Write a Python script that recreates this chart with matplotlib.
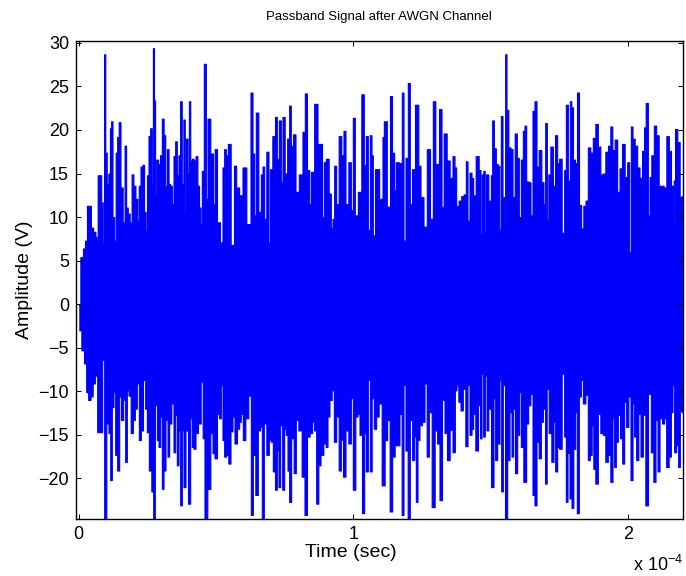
import numpy as np
import matplotlib
matplotlib.use("Agg")
import matplotlib.pyplot as plt

plt.rcParams['font.family'] = ['Liberation Sans', 'DejaVu Sans']
plt.rcParams['mathtext.fontset'] = 'custom'
plt.rcParams['mathtext.rm'] = 'Liberation Sans'
plt.rcParams['mathtext.it'] = 'Liberation Sans'

# Upper peaks of the received passband signal (time in microseconds, amplitude in V)
top_t_us = [
    0.0, 1.2, 1.9, 2.7, 3.3, 4.1, 4.8, 5.7, 6.5, 7.3, 7.9, 8.5, 9.0, 9.45, 9.9,
    10.5, 11.1, 11.6, 12.0, 12.6, 13.2, 13.7, 14.3, 14.8, 15.6, 16.4, 17.0, 17.5,
    18.2, 18.9, 19.6, 20.2, 21.1, 21.6, 22.1, 22.9, 23.5, 24.1, 24.6, 25.1, 25.7,
    26.3, 26.8, 27.2, 27.6, 28.0, 28.5, 29.3, 29.9, 30.6, 31.2, 31.8, 32.4, 33.0,
    33.6, 34.2, 34.8, 35.4, 36.0, 36.6, 37.2, 37.8, 38.4, 38.8, 39.3, 39.9, 40.3,
    40.9, 41.5, 42.1, 42.9, 43.5, 44.1, 44.5, 45.1,
    45.96, 46.57, 47.17, 48.63, 49.11, 49.84, 50.81, 52.02, 52.63, 53.24, 53.84,
    54.69, 55.91, 57.12, 57.48, 59.30, 59.91, 62.09, 62.94, 63.55, 64.15, 64.76,
    65.97, 66.58, 67.19, 67.79, 68.76, 69.37, 69.86, 71.07, 71.80, 72.40, 73.25,
    73.86, 74.47, 75.44, 76.28, 76.89, 77.50, 78.47, 79.32, 80.89, 81.99, 82.59,
    83.56, 84.17, 84.78, 86.60, 87.20, 88.05, 89.02, 89.39, 90.48, 91.45, 92.05,
    92.66, 93.27, 94.12, 95.09, 96.06, 96.66, 97.51, 98.73, 99.33, 100.18, 100.79,
    102.36, 103.33, 104.18, 104.79, 105.64, 106.25, 106.85, 107.22, 108.43,
    110.25, 110.86, 111.22, 113.04, 113.52, 114.49, 115.10, 115.71, 117.28,
    117.89, 118.50, 119.35, 120.20, 120.80, 121.77, 122.99, 124.20, 124.56,
    126.38, 126.99, 128.69, 129.05, 130.51, 131.72, 132.33, 133.30, 134.51,
    135.48, 136.58, 136.94, 137.79, 138.76, 139.61, 140.58, 141.19, 141.79,
    142.64, 143.25, 143.85, 145.07, 146.04, 146.40, 147.01, 147.49, 147.98,
    148.46, 149.68, 150.28, 150.65, 151.50, 152.10, 152.83, 153.32, 153.92,
    154.53, 155.01, 155.38, 155.98, 156.71, 157.56, 158.17, 159.14, 159.74,
    160.59, 161.20, 162.05, 162.41, 163.26, 163.99, 164.84, 165.45, 166.29,
    166.90, 167.87, 168.84, 169.45, 170.06, 170.66, 171.15, 172.12, 172.97,
    173.69, 174.54, 175.15, 176.36, 176.97, 177.58, 178.42, 179.03, 179.52,
    180.24, 180.97, 181.70, 182.43, 183.28, 184.00, 184.85, 185.70, 186.67,
    187.52, 188.49, 189.34, 190.31, 191.16, 192.13, 193.10, 193.83, 194.56,
    195.53, 196.38, 197.23, 198.20, 199.17, 200.02, 200.62, 201.23, 201.84,
    202.81, 203.66, 204.51, 205.48, 205.96, 206.69, 207.54, 207.90, 208.87,
    209.72, 210.57, 211.54, 212.39, 213.36, 214.33, 215.18, 215.91, 216.39,
    216.64, 217.36, 218.33, 219.06, 219.67,
]
top_amp = [
    0.0, 5.4, 6.4, 7.3, 11.3, 11.3, 8.8, 8.3, 7.7, 14.8, 14.8, 11.7, 7.0, 28.7, 17.4,
    13.8, 15.0, 20.2, 21.0, 10.0, 7.3, 17.4, 19.2, 20.9, 13.4, 9.4, 18.2, 11.1,
    10.4, 9.4, 14.9, 13.6, 12.1, 9.6, 13.6, 15.8, 16.0, 10.6, 8.5, 14.8, 19.3,
    20.2, 13.8, 29.4, 23.4, 12.5, 16.6, 16.1, 17.1, 21.3, 19.4, 13.6, 17.8, 13.8,
    13.6, 11.5, 17.0, 18.7, 14.8, 17.1, 23.3, 13.8, 21.2, 10.4, 19.0, 15.0, 23.3,
    16.5, 16.7, 16.5, 17.0, 13.6, 11.1, 9.2, 15.3,
    27.6, 12.1, 21.3, 17.3, 11.5, 17.8, 9.4, 7.1, 15.7, 17.8, 17.1,
    18.4, 6.8, 15.9, 13.4, 12.5, 15.7, 9.2, 24.3, 17.3, 10.2, 22.0,
    10.6, 14.9, 15.8, 9.8, 17.5, 7.0, 15.5, 19.3, 21.5, 16.7, 21.1,
    14.0, 21.5, 15.0, 19.0, 22.8, 18.2, 19.5, 12.9, 14.9, 19.8, 24.2,
    15.4, 11.5, 15.2, 23.0, 18.4, 18.4, 10.0, 16.3, 16.7, 12.7, 8.7,
    9.8, 15.9, 11.5, 19.3, 17.1, 19.9, 11.5, 16.3, 10.8, 21.4, 10.2,
    12.9, 24.1, 16.0, 19.3, 8.5, 19.4, 17.1, 7.9, 15.5,
    12.1, 19.2, 21.0, 11.2, 23.9, 17.4, 13.1, 16.3, 16.2,
    24.3, 7.3, 16.8, 25.4, 11.5, 15.5, 22.9, 15.9, 12.3,
    8.9, 17.8, 9.8, 23.3, 16.1, 22.4, 11.2, 19.6, 16.5,
    14.5, 17.0, 15.7, 11.3, 11.9, 12.4, 12.6, 16.4, 9.6,
    15.1, 14.5, 12.5, 17.0, 15.4, 8.1, 14.9, 15.3, 8.3,
    14.9, 11.9, 14.8, 21.1, 17.9, 16.1, 15.9, 8.6, 21.6,
    12.3, 9.0, 28.7, 22.3, 18.0, 17.8, 12.3, 19.6, 16.8,
    10.0, 16.6, 19.9, 20.5, 14.1, 14.0, 10.2, 22.2, 23.3,
    15.8, 17.7, 14.0, 11.5, 20.8, 9.7, 14.9, 18.1, 13.6,
    19.4, 16.2, 16.7, 8.2, 15.4, 22.9, 14.2, 23.3, 22.6,
    16.6, 16.2, 24.3, 11.4, 8.7, 11.3, 11.9, 18.0, 17.4,
    19.1, 20.7, 18.1, 14.9, 15.0, 17.5, 18.2, 20.4, 17.7,
    18.9, 12.9, 15.6, 18.4, 14.6, 16.3, 6.0, 20.4, 19.0,
    18.2, 15.7, 14.5, 17.6, 20.3, 23.1, 10.2, 14.6, 17.1,
    20.5, 19.4, 13.6, 13.6, 13.4, 19.3, 17.6, 13.6, 9.3,
    14.2, 20.1, 18.6, 12.3, 12.4,
]

# Lower peaks of the received passband signal
bot_t_us = [
    0.0, 0.48, 1.45, 2.42, 3.02, 3.87, 4.72, 5.45, 6.30, 7.15, 8.12, 8.97, 9.57,
    10.54, 11.15, 11.76, 12.36, 12.97, 13.58, 14.43, 15.03, 15.76, 16.61, 17.22,
    17.82, 18.43, 19.40, 20.01, 20.85, 21.46, 22.31, 22.92, 23.89, 24.49, 25.10,
    25.95, 26.92, 27.28, 28.13, 28.74, 29.35, 29.95, 30.56, 31.16, 32.01, 32.62,
    33.23, 34.20, 34.80, 35.41, 36.02, 36.62, 37.23, 37.84, 38.44, 39.29, 40.26,
    40.87, 41.48, 42.08, 42.93, 43.90, 44.87,
    45.35, 46.20, 47.42, 48.39, 48.99, 49.84, 50.81, 51.42, 52.02, 52.63, 53.24,
    54.09, 54.81, 55.66, 56.27, 57.12, 58.09, 58.70, 59.30, 60.15, 61.12, 62.33,
    62.94, 63.79, 64.76, 65.61, 66.34, 66.94, 67.79, 68.76, 69.61, 70.22, 71.07,
    71.80, 72.40, 73.01, 73.62, 74.47, 75.07, 75.68, 76.28, 76.89, 77.74, 78.71,
    79.32, 80.53, 81.74, 82.59, 83.56, 84.53, 85.38, 85.99, 86.84, 87.57, 88.42,
    89.63, 90.23, 90.84, 91.69, 92.42, 93.27, 94.12, 95.09, 95.69, 96.66, 97.51,
    98.73, 99.33, 100.18, 101.15, 101.76, 102.61, 103.58, 104.18, 104.79, 105.64,
    106.25, 106.97, 107.82, 108.67, 109.64, 110.86, 111.83, 112.67, 113.64,
    114.49, 115.46, 116.31, 117.16, 117.89, 118.50, 119.35, 120.07, 120.92,
    121.77, 122.38, 122.99, 123.59, 124.44, 125.41, 126.26, 126.99, 127.84,
    129.05, 130.02, 130.87, 131.72, 132.69, 133.54, 134.51,
    135.48, 136.58, 137.18, 137.79, 138.52, 139.37, 140.21, 141.19, 141.79,
    142.64, 143.25, 143.85, 144.82, 145.79, 146.28, 146.89, 147.49, 148.10,
    148.71, 149.43, 150.65, 151.25, 151.86, 152.71, 153.56, 153.92, 154.77,
    155.50, 156.35, 157.20, 157.80, 158.41, 159.14, 159.99, 160.59, 161.20,
    162.41, 163.26, 163.87, 164.84, 165.45, 166.29, 166.90, 167.87, 168.48,
    169.33, 170.06, 170.54, 171.51, 172.48, 173.09, 173.69, 174.54, 175.15,
    176.36, 176.97, 177.58, 178.18, 179.03, 179.64, 180.37, 180.97, 181.58,
    182.43, 183.03, 183.88, 184.85, 185.70, 186.31, 187.04, 187.52, 188.49,
    189.34, 190.31, 191.16, 192.13, 192.98, 193.95, 194.56, 195.16, 195.77,
    196.62, 197.35, 198.20, 198.80, 199.65, 200.38, 201.23, 201.84, 202.44,
    203.29, 204.02, 204.87, 205.72, 206.69, 207.66, 208.75, 209.48, 210.33,
    210.94, 211.78, 212.75, 213.36, 214.21, 215.18, 215.79, 216.39, 217.00,
    217.85, 218.45, 219.06, 219.67,
]
bot_amp = [
    0.0, -3.0, -5.3, -6.8, -10.1, -11.0, -10.6, -9.1, -8.2, -14.7, -14.7, -6.4, -24.8,
    -13.7, -14.8, -20.2, -11.8, -10.1, -17.3, -19.1, -10.6, -13.3, -11.0, -18.1,
    -9.9, -10.5, -14.8, -13.3, -12.0, -9.1, -15.6, -14.5, -8.7, -12.0, -14.7,
    -19.1, -21.5, -24.8, -11.6, -15.6, -16.4, -12.9, -21.2, -19.1, -13.3, -17.5,
    -13.7, -11.4, -17.0, -12.7, -18.5, -14.5, -23.1, -14.5, -21.0, -14.5, -22.9,
    -13.1, -16.4, -16.6, -14.8, -13.7, -8.9,
    -15.4, -24.8, -21.2, -14.8, -17.1, -17.7, -12.6, -13.1, -9.3, -15.6, -17.5,
    -17.3, -18.3, -14.6, -12.9, -16.0, -14.3, -13.5, -12.6, -15.6, -13.1, -10.5,
    -24.2, -17.3, -21.9, -14.5, -14.1, -24.8, -13.7, -17.3, -15.6, -15.8, -19.2,
    -21.3, -16.8, -21.0, -13.9, -21.3, -14.3, -15.0, -19.1, -22.7, -15.4, -19.4,
    -13.3, -14.5, -19.8, -24.2, -15.2, -14.8, -13.5, -14.5, -22.9, -18.5, -17.3,
    -16.0, -16.4, -12.9, -11.0, -9.9, -15.8, -12.9, -19.1, -15.6, -19.8, -14.5,
    -16.0, -10.8, -21.3, -12.9, -12.6, -15.0, -24.0, -14.8, -19.2, -8.7,
    -19.2, -10.8, -14.3, -12.9, -11.4, -20.8, -15.6, -13.3, -23.8,
    -17.5, -16.2, -16.2, -12.6, -24.2, -9.3, -16.8, -24.8, -13.3,
    -17.9, -15.2, -22.7, -15.6, -13.9, -13.5, -9.1, -17.5, -12.4,
    -23.3, -14.5, -16.0, -22.5, -11.0, -14.8, -17.9,
    -14.4, -17.0, -9.9, -9.3, -11.2, -12.2, -9.7, -16.3, -9.3,
    -15.0, -14.3, -12.6, -16.8, -11.6, -15.4, -8.0, -15.2, -8.2,
    -14.5, -12.0, -21.0, -10.8, -17.9, -16.0, -8.7, -21.5, -9.3,
    -24.8, -17.9, -12.4, -17.5, -12.0, -19.4, -15.0, -10.1, -16.4,
    -20.4, -13.7, -11.6, -10.3, -21.9, -23.1, -15.8, -17.7, -13.5,
    -12.0, -20.6, -9.7, -14.8, -18.1, -13.5, -19.2, -16.4, -16.6,
    -8.0, -15.2, -22.7, -17.1, -22.3, -23.4, -16.6, -12.4, -24.0,
    -10.6, -8.7, -11.4, -10.4, -17.9, -17.3, -13.9, -18.9, -20.6,
    -12.6, -14.8, -15.0, -18.1, -17.3, -20.4, -13.1, -18.7, -15.8,
    -12.7, -15.4, -18.3, -11.2, -14.1, -10.6, -20.2, -11.4, -15.2,
    -17.9, -12.6, -17.5, -12.7, -23.1, -10.3, -17.0, -20.4, -13.3,
    -19.2, -13.1, -13.7, -13.1, -18.7, -17.5, -12.4, -9.3, -17.0,
    -16.2, -18.7, -12.2, -12.4,
]

# time axis is shown in units of 1e-4 s
top_t = np.array(top_t_us) / 100.0
bot_t = np.array(bot_t_us) / 100.0
top_a = np.array(top_amp)
bot_a = np.array(bot_amp)
o = np.argsort(top_t)
top_t, top_a = top_t[o], top_a[o]
o = np.argsort(bot_t)
bot_t, bot_a = bot_t[o], bot_a[o]

fig = plt.figure(figsize=(6.86, 5.76), dpi=100)
ax = fig.add_axes([0.1108, 0.0984, 0.8844, 0.8309])

ax.fill_between(top_t, 0, top_a, step='mid', color='blue', linewidth=0.8,
                edgecolor='blue', antialiased=False)
ax.fill_between(bot_t, bot_a, 0, step='mid', color='blue', linewidth=0.8,
                edgecolor='blue', antialiased=False)

ax.set_xlim(-0.0098, 2.198)
ax.set_ylim(-24.7, 30.25)
ax.set_xticks([0, 1, 2])
ax.set_xticklabels(['0', '1', '2'])
ax.set_yticks(np.arange(-20, 31, 5))

ax.tick_params(direction='in', top=True, right=True, length=3.6, width=0.75,
               labelsize=13, pad=5)
for s in ax.spines.values():
    s.set_linewidth(1.0)

ax.set_title('Passband Signal after AWGN Channel', fontsize=9.5, pad=15)
ax.set_xlabel('Time (sec)', fontsize=14)
ax.xaxis.set_label_coords(0.453, -0.052)
ax.set_ylabel('Amplitude (V)', fontsize=14, labelpad=4)
ax.text(1.0, -0.108, r'x 10$^{-4}$', transform=ax.transAxes, ha='right',
        va='baseline', fontsize=13)

fig.savefig('out.png', dpi=100)
